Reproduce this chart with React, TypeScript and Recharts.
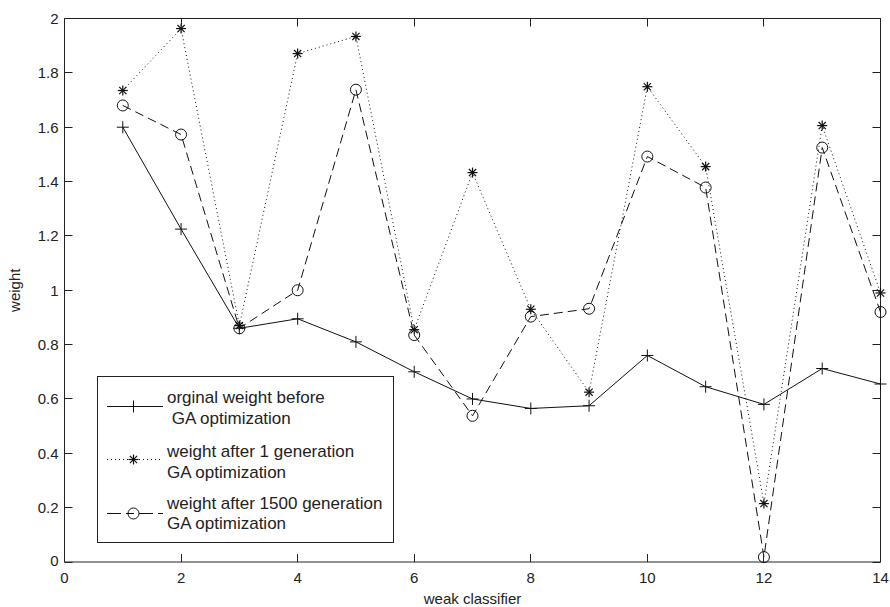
import React from 'react';
import { LineChart, Line, XAxis, YAxis, Legend, ReferenceLine } from 'recharts';

const classifiers = [1, 2, 3, 4, 5, 6, 7, 8, 9, 10, 11, 12, 13, 14];
const originalWeight = [1.60, 1.225, 0.86, 0.895, 0.81, 0.70, 0.60, 0.565, 0.575, 0.76, 0.645, 0.58, 0.712, 0.655];
const gen1Weight = [1.735, 1.963, 0.87, 1.871, 1.934, 0.855, 1.433, 0.93, 0.625, 1.749, 1.455, 0.215, 1.606, 0.99];
const gen1500Weight = [1.68, 1.573, 0.86, 1.0, 1.738, 0.835, 0.538, 0.903, 0.932, 1.492, 1.378, 0.018, 1.525, 0.92];

const xTicks = [0, 2, 4, 6, 8, 10, 12, 14];
const yTicks = [0, 0.2, 0.4, 0.6, 0.8, 1, 1.2, 1.4, 1.6, 1.8, 2];
const yTickLabels = ['0', '0.2', '0.4', '0.6', '0.8', '1', '1.2', '1.4', '1.6', '1.8', '2'];

const seriesNames = [
  ['orginal weight before', ' GA optimization'],
  ['weight after 1 generation', 'GA optimization'],
  ['weight after 1500 generation', 'GA optimization'],
];

const data = classifiers.map((c, i) => ({
  x: c,
  original: originalWeight[i],
  gen1: gen1Weight[i],
  gen1500: gen1500Weight[i],
}));

const INK = '#111';
const AXIS = '#222';
const FONT = '"Liberation Sans", Arial, sans-serif';
const TICK_LEN = 8;

const CHART_W = 890;
const CHART_H = 607;
const MARGIN = { top: 18.5, right: 9.5, left: 0.5, bottom: 0 };
const Y_AXIS_W = 64;
const X_AXIS_H = 45;
const PLOT_W = CHART_W - MARGIN.left - MARGIN.right - Y_AXIS_W;
const PLOT_H = CHART_H - MARGIN.top - MARGIN.bottom - X_AXIS_H;

const PlusMark = ({ cx, cy }: { cx: number; cy: number }) => (
  <g>
    <line x1={cx - 6} x2={cx + 6} y1={cy} y2={cy} stroke={INK} strokeWidth={1} />
    <line x1={cx} x2={cx} y1={cy - 6} y2={cy + 6} stroke={INK} strokeWidth={1} />
  </g>
);

const StarMark = ({ cx, cy }: { cx: number; cy: number }) => {
  const r = 5;
  const d = 3.6;
  return (
    <g>
      <line x1={cx - r} x2={cx + r} y1={cy} y2={cy} stroke={INK} strokeWidth={1.2} />
      <line x1={cx} x2={cx} y1={cy - r} y2={cy + r} stroke={INK} strokeWidth={1.2} />
      <line x1={cx - d} x2={cx + d} y1={cy - d} y2={cy + d} stroke={INK} strokeWidth={1.2} />
      <line x1={cx - d} x2={cx + d} y1={cy + d} y2={cy - d} stroke={INK} strokeWidth={1.2} />
    </g>
  );
};

const CircleMark = ({ cx, cy }: { cx: number; cy: number }) => (
  <circle cx={cx} cy={cy} r={5.5} fill="none" stroke={INK} strokeWidth={1} />
);

const dotRenderer = (Mark: any) => (props: any) => {
  const { cx, cy, index } = props;
  if (cx == null || cy == null) return <g key={`d-${index}`} />;
  return (
    <g key={`d-${index}`}>
      <Mark cx={cx} cy={cy} />
    </g>
  );
};

const BottomTick = (props: any) => {
  const x = Number(props.x);
  const y = Number(props.y);
  const yTop = y - PLOT_H;
  const px = Math.floor(x);
  return (
    <g>
      <rect x={px} y={y - TICK_LEN} width={1} height={TICK_LEN} fill={AXIS} />
      <rect x={px} y={yTop} width={1} height={TICK_LEN} fill={AXIS} />
      <text x={x} y={y + 15} textAnchor="middle" dominantBaseline="central" fontSize={15} fontFamily={FONT} fill={AXIS}>
        {props.payload.value}
      </text>
    </g>
  );
};

const LeftTick = (props: any) => {
  const x = Number(props.x);
  const y = Number(props.y);
  const idx = yTicks.indexOf(props.payload.value);
  const label = idx >= 0 ? yTickLabels[idx] : String(props.payload.value);
  const xRight = x + PLOT_W;
  const py = Math.floor(y);
  return (
    <g>
      <rect x={x} y={py} width={TICK_LEN} height={1} fill={AXIS} />
      <rect x={xRight - TICK_LEN} y={py} width={TICK_LEN} height={1} fill={AXIS} />
      <text x={x - 6} y={y - (props.index === 0 ? 2 : 0)} textAnchor="end" dominantBaseline="central" fontSize={15} fontFamily={FONT} fill={AXIS}>
        {label}
      </text>
    </g>
  );
};

const YLabel = (props: any) => {
  const vb = props.viewBox || { x: 0, y: MARGIN.top, width: Y_AXIS_W, height: PLOT_H };
  const cx = 14;
  const cy = vb.y + vb.height / 2;
  return (
    <text x={cx} y={cy} transform={`rotate(-90, ${cx}, ${cy})`} textAnchor="middle" dominantBaseline="central" fontSize={15} fontFamily={FONT} fill={AXIS}>
      weight
    </text>
  );
};

const XLabel = (props: any) => {
  const vb = props.viewBox || { x: Y_AXIS_W, y: MARGIN.top + PLOT_H, width: PLOT_W, height: X_AXIS_H };
  return (
    <text x={vb.x + vb.width / 2} y={vb.y + 36} textAnchor="middle" dominantBaseline="central" fontSize={15} fontFamily={FONT} fill={AXIS}>
      weak classifier
    </text>
  );
};

const LegendBox = () => {
  const rows = [
    { y: 30, dash: undefined as string | undefined, Mark: PlusMark, t1: 21, t2: 42 },
    { y: 83, dash: '1 3', Mark: StarMark, t1: 75, t2: 96 },
    { y: 137, dash: '14 5 8 5', Mark: CircleMark, t1: 127, t2: 147 },
  ];
  return (
    <svg width={297} height={168} style={{ display: 'block' }}>
      <rect x={0.5} y={0.5} width={296} height={166} fill="#fff" stroke={AXIS} strokeWidth={1} />
      {rows.map((r, i) => (
        <g key={i}>
          <line x1={10} x2={66} y1={r.y + 0.5} y2={r.y + 0.5} stroke={INK} strokeWidth={1} strokeDasharray={r.dash} />
          <r.Mark cx={36.5} cy={r.y + 0.5} />
          <text x={70} y={r.t1} dominantBaseline="central" fontSize={17} fontFamily={FONT} fill={AXIS}>
            {seriesNames[i][0]}
          </text>
          <text x={70} y={r.t2} dominantBaseline="central" fontSize={17} fontFamily={FONT} fill={AXIS} style={{ whiteSpace: 'pre' }}>
            {seriesNames[i][1]}
          </text>
        </g>
      ))}
    </svg>
  );
};

export default function App() {
  return (
    <div style={{ position: 'absolute', left: 0, top: 0, width: CHART_W, height: CHART_H, background: '#fff' }}>
      <LineChart width={CHART_W} height={CHART_H} data={data} margin={MARGIN}>
        <XAxis
          dataKey="x"
          type="number"
          domain={[0, 14]}
          ticks={xTicks}
          height={X_AXIS_H}
          tickSize={0}
          tickMargin={0}
          tickLine={false}
          axisLine={{ stroke: AXIS, strokeWidth: 1 }}
          tick={<BottomTick />}
          interval={0}
          label={<XLabel />}
        />
        <YAxis
          type="number"
          domain={[0, 2]}
          ticks={yTicks}
          width={Y_AXIS_W}
          tickSize={0}
          tickMargin={0}
          tickLine={false}
          axisLine={{ stroke: AXIS, strokeWidth: 1 }}
          tick={<LeftTick />}
          interval={0}
          label={<YLabel />}
        />
        <ReferenceLine y={2} stroke={AXIS} strokeWidth={1} ifOverflow="visible" />
        <ReferenceLine x={14} stroke={AXIS} strokeWidth={1} ifOverflow="visible" />
        <Line
          type="linear"
          dataKey="original"
          stroke={INK}
          strokeWidth={1}
          dot={dotRenderer(PlusMark)}
          activeDot={false}
          isAnimationActive={false}
        />
        <Line
          type="linear"
          dataKey="gen1"
          stroke={INK}
          strokeWidth={1}
          strokeDasharray="1 3"
          dot={dotRenderer(StarMark)}
          activeDot={false}
          isAnimationActive={false}
        />
        <Line
          type="linear"
          dataKey="gen1500"
          stroke={INK}
          strokeWidth={1}
          strokeDasharray="9 5"
          dot={dotRenderer(CircleMark)}
          activeDot={false}
          isAnimationActive={false}
        />
        <Legend
          layout="vertical"
          align="center"
          verticalAlign="middle"
          content={<LegendBox />}
          wrapperStyle={{ position: 'absolute', left: 97, top: 376, width: 297, height: 168 }}
        />
      </LineChart>
    </div>
  );
}
